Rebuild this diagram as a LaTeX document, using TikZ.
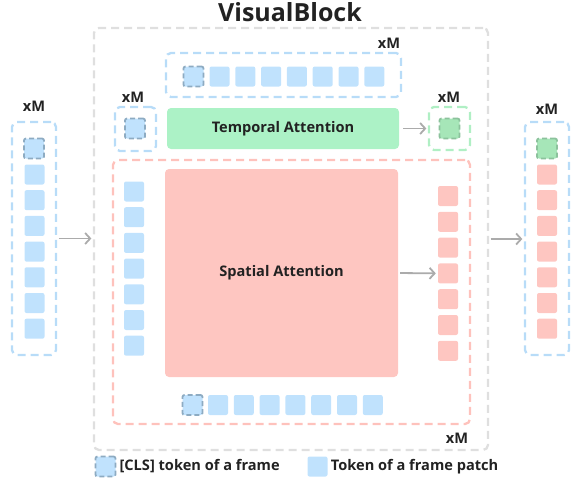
\documentclass[tikz,border=0pt]{standalone}
\usepackage{fontspec}
\setmainfont{Open Sans}
\usepackage{tikz}
\usetikzlibrary{positioning}
\usetikzlibrary{arrows.meta}
\usetikzlibrary{calc}

\definecolor{tokblue}{HTML}{C0E2FD}
\definecolor{dashblue}{HTML}{B8DCF8}
\definecolor{clsedge}{HTML}{8DABC2}
\definecolor{attgreen}{HTML}{ACF2C6}
\definecolor{dashgreen}{HTML}{B0EFC4}
\definecolor{tokgreen}{HTML}{A6E6B8}
\definecolor{clsgreenedge}{HTML}{8CC29C}
\definecolor{attred}{HTML}{FEC6C1}
\definecolor{dashred}{HTML}{FEC2BC}
\definecolor{dashgray}{HTML}{DFDFDF}
\definecolor{arrowgray}{HTML}{ABABAB}
\definecolor{textdark}{HTML}{222222}

\begin{document}
\begin{tikzpicture}[x=1pt, y=-1pt,
				group/.style={draw, dash pattern=on 8pt off 5pt, line width=2.3pt, rounded corners=5pt, inner sep=0pt},
				patch/.style={rectangle, rounded corners=2pt, minimum size=20pt, inner sep=0pt},
				clstok/.style={patch, fill=tokblue, draw=clsedge, line width=1.8pt, dash pattern=on 5pt off 3pt},
				block/.style={rectangle, rounded corners=4pt, inner sep=0pt, font=\fontsize{14.6}{16}\selectfont\bfseries, text=textdark},
				label/.style={font=\fontsize{14.6}{16}\selectfont\bfseries, text=textdark, inner sep=0pt},
				every text node part/.style={align=center}]
				\useasboundingbox (0,0) rectangle (575,482);
				
				\node[label, font=\fontsize{25}{30}\selectfont\bfseries](title) at (290,12) {VisualBlock};
				\node[group, draw=dashgray, minimum width=394pt, minimum height=422pt](visual) at (291,239) {};
				
				% input and output frames
				\node[group, draw=dashblue, minimum width=44pt, minimum height=233pt](inframe) at (34,238.5) {};
				\node[group, draw=dashblue, minimum width=44pt, minimum height=233pt](outframe) at (547,238.5) {};
				\node[label](xmin) at (34,106) {xM};
				\node[label](xmout) at (547,109) {xM};
				\node[clstok](incls) at (34,148.5) {};
				\node[clstok, fill=tokgreen, draw=clsgreenedge](outcls) at (547,148.5) {};
				\foreach \i in {0,...,6} {
					\node[patch, fill=tokblue](in\i) at (34.5,174.5+25.7*\i) {};
					\node[patch, fill=attred](out\i) at (547,174.5+25.7*\i) {};
				}
				
				% temporal part
				\node[group, draw=dashblue, minimum width=235pt, minimum height=44pt](temprow) at (283.5,75) {};
				\node[label](xmrow) at (389,43) {xM};
				\node[clstok](rowcls) at (193.5,76.5) {};
				\foreach \i in {0,...,6}
					\node[patch, fill=tokblue](row\i) at (219.5+25.8*\i,76.5) {};
				\node[group, draw=dashblue, minimum width=41pt, minimum height=44pt](clsin) at (135.5,129) {};
				\node[label](xmclsin) at (133,97) {xM};
				\node[clstok](clsintok) at (135,128.5) {};
				\node[block, fill=attgreen, minimum width=232pt, minimum height=41pt](temporal) at (283,128.5) {Temporal Attention};
				\node[group, draw=dashgreen, minimum width=41pt, minimum height=43pt](clsout) at (449.5,128.5) {};
				\node[label](xmclsout) at (449,97) {xM};
				\node[clstok, fill=tokgreen, draw=clsgreenedge](clsouttok) at (449.5,128.5) {};
				
				% spatial part
				\node[group, draw=dashred, minimum width=357pt, minimum height=264pt](spatbox) at (291.5,292) {};
				\node[label](xmspat) at (457,438) {xM};
				\node[block, fill=attred, minimum width=233pt, minimum height=208pt](spatial) at (281.5,273) {Spatial Attention};
				\foreach \i in {0,...,6} {
					\node[patch, fill=tokblue](col\i) at (134,191.5+25.7*\i) {};
					\node[patch, fill=attred](res\i) at (448,196+25.8*\i) {};
				}
				\node[clstok](botcls) at (192.5,405) {};
				\foreach \i in {0,...,6}
					\node[patch, fill=tokblue](bot\i) at (218+25.8*\i,405) {};
				
				% arrows
				\draw[-{Straight Barb[length=5pt, width=11pt]}, arrowgray, line width=1.8pt, shorten <=1.5pt, shorten >=1.5pt] (inframe.east) -- (visual.west |- inframe.east);
				\draw[-{Straight Barb[length=5pt, width=11pt]}, arrowgray, line width=1.8pt, shorten <=1.5pt, shorten >=1.5pt] (visual.east) -- (outframe.west |- visual.east);
				\draw[-{Straight Barb[length=5pt, width=11pt]}, arrowgray, line width=1.8pt, shorten <=4pt, shorten >=1.5pt] (temporal.east) -- (clsout.west);
				\draw[-{Straight Barb[length=5pt, width=11pt]}, arrowgray, line width=1.8pt, shorten <=2pt, shorten >=2pt] (spatial.east) -- (res3.west);
				
				% legend
				\node[clstok](legcls) at (105.5,466.5) {};
				\node[label, anchor=west, right=3pt of legcls](legclstext) {[CLS] token of a frame};
				\node[patch, fill=tokblue](legpatch) at (317.5,466.5) {};
				\node[label, anchor=west, right=3pt of legpatch](legpatchtext) {Token of a frame patch};
			\end{tikzpicture}
\end{document}
